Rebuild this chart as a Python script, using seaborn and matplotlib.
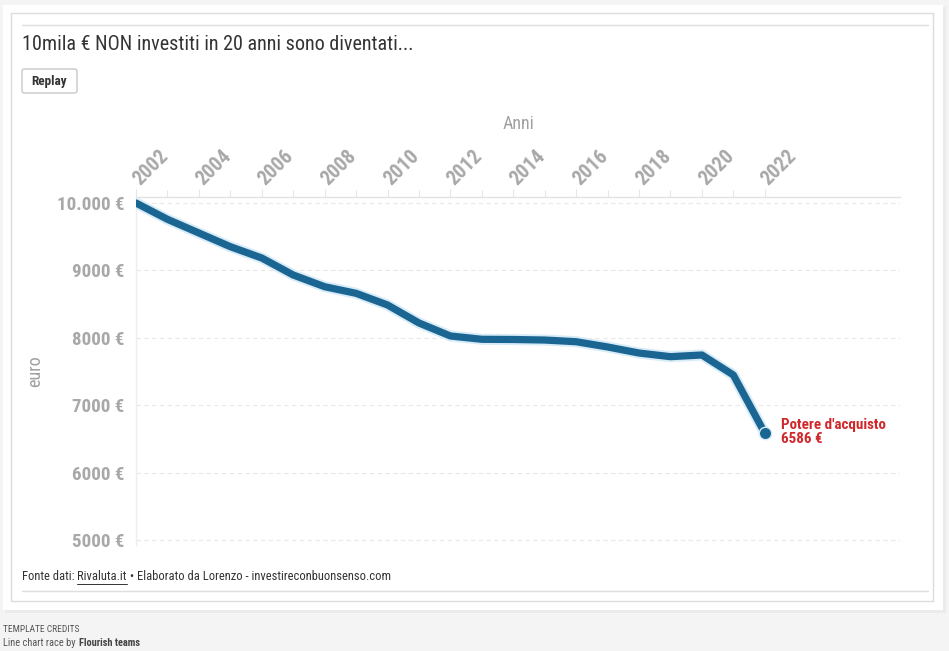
import numpy as np
import pandas as pd
import matplotlib.pyplot as plt
import matplotlib.patches as mpatches
import seaborn as sns

# data
years = list(range(2002, 2023))
values = [10000, 9758, 9555, 9352, 9184, 8932, 8758, 8660, 8487, 8220, 8027,
          7978, 7975, 7967, 7942, 7864, 7774, 7720, 7745, 7448, 6586]
y_ticks = [5000, 6000, 7000, 8000, 9000, 10000]
y_tick_labels = ['5000 €', '6000 €', '7000 €', '8000 €', '9000 €', '10.000 €']
x_major = list(range(2002, 2023, 2))

df = pd.DataFrame({'anno': years, 'euro': values})

sns.set_style('white')
plt.rcParams['font.family'] = ['Roboto Condensed', 'Liberation Sans Narrow', 'Roboto', 'DejaVu Sans']

W, H = 949, 651
fig = plt.figure(figsize=(W / 100, H / 100), dpi=100)
fig.patch.set_facecolor('#f5f4f4')

def px_rect(x0, y0, x1, y1, **kw):
    return mpatches.Rectangle((x0 / W, 1 - y1 / H), (x1 - x0) / W, (y1 - y0) / H,
                              transform=fig.transFigure, **kw)

# card + inner frame
fig.patches.append(px_rect(5, 7, 946, 613, facecolor='#ebebeb', edgecolor='none', zorder=-5))
fig.patches.append(px_rect(3, 5, 943, 610, facecolor='white', edgecolor='none', zorder=-4))
fig.patches.append(px_rect(11, 13, 933, 601, facecolor='none', edgecolor='#dcdcdc', lw=1, zorder=-3))
fig.add_artist(plt.Line2D([22 / W, 928 / W], [1 - 25 / H, 1 - 25 / H], transform=fig.transFigure, color='#dedede', lw=1, zorder=-3))
fig.add_artist(plt.Line2D([22 / W, 928 / W], [1 - 591 / H, 1 - 591 / H], transform=fig.transFigure, color='#dedede', lw=1, zorder=-3))

# replay button
fig.patches.append(mpatches.FancyBboxPatch((22 / W, 1 - 93 / H), 55 / W, 24 / H,
                                           boxstyle='round,pad=0,rounding_size=0.003',
                                           transform=fig.transFigure, facecolor='white',
                                           edgecolor='#c8c8c8', lw=1, zorder=-2))
fig.text(49.5 / W, 1 - 81 / H, 'Replay', ha='center', va='center', fontsize=9.5,
         fontweight='bold', color='#333333')

fig.text(22 / W, 1 - 45 / H, '10mila € NON investiti in 20 anni sono diventati...',
         ha='left', va='center', fontsize=14.5, color='#333333')

# footer, pieces placed one after another
renderer = fig.canvas.get_renderer()
xpos = 22
pieces = [('Fonte dati: ', False), ('Rivaluta.it', True),
          (' • Elaborato da Lorenzo - investireconbuonsenso.com', False)]
for txt, underline in pieces:
    t = fig.text(xpos / W, 1 - 577 / H, txt, ha='left', va='center', fontsize=9, color='#333333')
    bb = t.get_window_extent(renderer)
    if underline:
        fig.add_artist(plt.Line2D([xpos / W, (xpos + bb.width) / W], [1 - 584 / H, 1 - 584 / H],
                                  transform=fig.transFigure, color='#333333', lw=0.7))
    xpos += bb.width

fig.text(3 / W, 1 - 630 / H, 'TEMPLATE CREDITS', ha='left', va='center', fontsize=6.8, color='#555555')
t = fig.text(3 / W, 1 - 643 / H, 'Line chart race by ', ha='left', va='center', fontsize=7.5, color='#555555')
bb = t.get_window_extent(renderer)
fig.text((3 + bb.width + 1) / W, 1 - 643 / H, 'Flourish teams', ha='left', va='center', fontsize=7.5,
         color='#444444', fontweight='bold')

# main axes
ax = fig.add_axes([136 / W, 1 - 545 / H, (900 - 136) / W, (545 - 197) / H])
ax.set_facecolor('none')

sns.lineplot(data=df, x='anno', y='euro', ax=ax, color='#d8ecf8', linewidth=8,
             solid_capstyle='round', solid_joinstyle='round', zorder=3)
sns.lineplot(data=df, x='anno', y='euro', ax=ax, color='#1b6593', linewidth=5.2,
             solid_capstyle='round', solid_joinstyle='round', zorder=4)
ax.scatter(years[-1], values[-1], s=80, color='#1b6593', edgecolor='#d8ecf8', lw=1, zorder=5)

ax.annotate("Potere d'acquisto\n%d €" % values[-1], (years[-1], values[-1]),
            xytext=(12, 1), textcoords='offset points', ha='left', va='center',
            fontsize=10.8, fontweight='bold', color='#d0282a', linespacing=1.0)

ax.set_xlim(2002, 2026.3)
ax.set_ylim(4926, 10089)

ax.xaxis.tick_top()
ax.xaxis.set_label_position('top')
ax.set_xticks(x_major)
ax.set_xticks(years, minor=True)
ax.set_xticklabels([str(y) for y in x_major], rotation=45, ha='left', va='center',
                   rotation_mode='anchor', fontsize=14.5, fontweight='bold', color='#a8a8a8')
ax.tick_params(axis='x', which='both', top=True, bottom=False, length=6, width=0.8,
               color='#e6e6e6', pad=5, direction='out')
ax.tick_params(axis='x', which='minor', length=5)
ax.set_xlabel('Anni', fontsize=13, color='#a0a0a0', labelpad=12)

ax.set_yticks(y_ticks)
ax.set_yticklabels(y_tick_labels, fontsize=13.7, fontweight='bold', color='#a8a8a8')
ax.tick_params(axis='y', left=False, pad=5)
ax.set_ylabel('euro', fontsize=13, color='#a0a0a0', labelpad=9)

for v in y_ticks:
    ax.axhline(v, color='#e8e8e8', lw=0.8, ls=(0, (4, 3)), zorder=1)

for side in ['right', 'bottom']:
    ax.spines[side].set_visible(False)
ax.spines['top'].set_color('#e3e3e3')
ax.spines['left'].set_color('#ededed')
ax.spines['top'].set_linewidth(1)
ax.spines['left'].set_linewidth(1)

fig.savefig('out.png', dpi=100, facecolor=fig.get_facecolor())
